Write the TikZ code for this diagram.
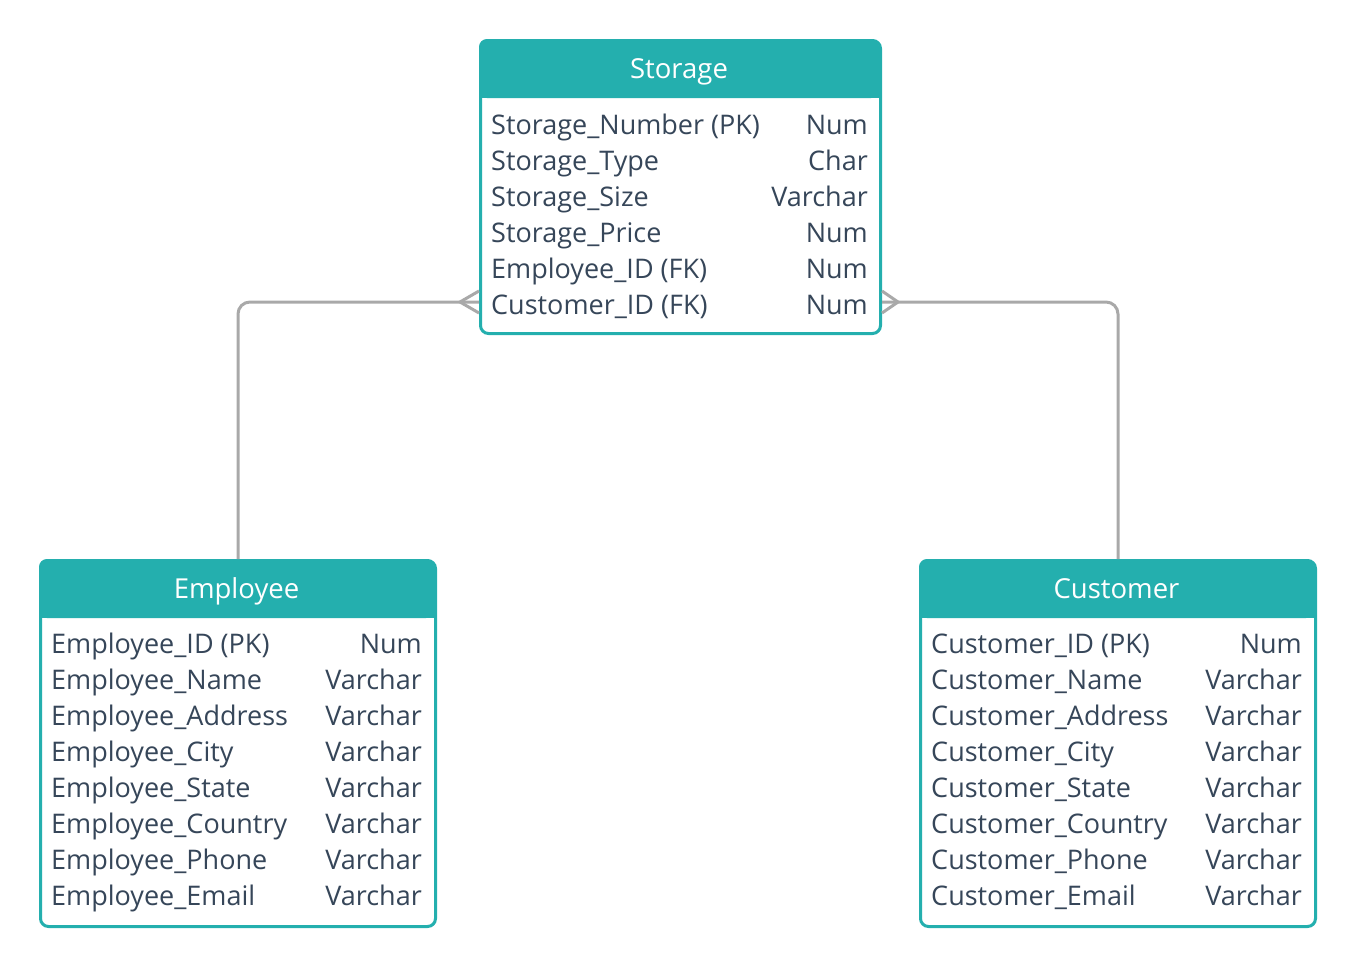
\documentclass[tikz,border=0pt]{standalone}
\usepackage{fontspec}
\setmainfont{Open Sans}
\definecolor{teal1}{HTML}{24AFAE}
\definecolor{ink}{HTML}{364659}
\definecolor{conn}{HTML}{A9A9A9}
\begin{document}
\begin{tikzpicture}[x=1pt,y=-1pt,
  tablebox/.style={draw=teal1, line width=3pt, rounded corners=8pt, fill=white, anchor=north west, inner sep=0pt},
  title/.style={text=white, font=\fontsize{27.5}{31}\selectfont, anchor=base, inner sep=0pt},
  fieldname/.style={text=ink, font=\fontsize{27}{31}\selectfont, anchor=base west, inner sep=0pt},
  fieldtype/.style={text=ink, font=\fontsize{27}{31}\selectfont, anchor=base east, inner sep=0pt},
  link/.style={draw=conn, line width=3pt, rounded corners=12pt},
  crow/.style={draw=conn, line width=3pt}]
\useasboundingbox (0,0) rectangle (1354,964);
% Storage
\node[tablebox, minimum width=400pt, minimum height=293pt] (storage) at (479,39) {};
\fill[teal1, rounded corners=8pt] (479,39) rectangle (879,98);
\fill[teal1] (479,70) rectangle (879,98);
\node[title] (storageT) at (679,78) {Storage};
\node[fieldname] (s1) at (491,134) {Storage\_Number (PK)};
\node[fieldtype] (s1t) at (868,134) {Num};
\node[fieldname] (s2) at (491,170) {Storage\_Type};
\node[fieldtype] (s2t) at (868,170) {Char};
\node[fieldname] (s3) at (491,206) {Storage\_Size};
\node[fieldtype] (s3t) at (868,206) {Varchar};
\node[fieldname] (s4) at (491,242) {Storage\_Price};
\node[fieldtype] (s4t) at (868,242) {Num};
\node[fieldname] (s5) at (491,278) {Employee\_ID (FK)};
\node[fieldtype] (s5t) at (868,278) {Num};
\node[fieldname] (s6) at (491,314) {Customer\_ID (FK)};
\node[fieldtype] (s6t) at (868,314) {Num};
% Employee
\node[tablebox, minimum width=395pt, minimum height=366pt] (employee) at (39,559) {};
\fill[teal1, rounded corners=8pt] (39,559) rectangle (434,618);
\fill[teal1] (39,590) rectangle (434,618);
\node[title] (employeeT) at (236.5,598) {Employee};
\foreach \n/\t [count=\i from 0] in {Employee\_ID (PK)/Num, Employee\_Name/Varchar, Employee\_Address/Varchar, Employee\_City/Varchar, Employee\_State/Varchar, Employee\_Country/Varchar, Employee\_Phone/Varchar, Employee\_Email/Varchar}{
  \node[fieldname] (e\i) at (51,653+36*\i) {\n};
  \node[fieldtype] (e\i t) at (422,653+36*\i) {\t};
}
% Customer
\node[tablebox, minimum width=395pt, minimum height=366pt] (customer) at (919,559) {};
\fill[teal1, rounded corners=8pt] (919,559) rectangle (1314,618);
\fill[teal1] (919,590) rectangle (1314,618);
\node[title] (customerT) at (1116.5,598) {Customer};
\foreach \n/\t [count=\i from 0] in {Customer\_ID (PK)/Num, Customer\_Name/Varchar, Customer\_Address/Varchar, Customer\_City/Varchar, Customer\_State/Varchar, Customer\_Country/Varchar, Customer\_Phone/Varchar, Customer\_Email/Varchar}{
  \node[fieldname] (c\i) at (931,653+36*\i) {\n};
  \node[fieldtype] (c\i t) at (1302,653+36*\i) {\t};
}
% connectors
\coordinate (sL) at (storage.west |- 0,302);
\coordinate (sR) at (storage.east |- 0,302);
\coordinate (sLtip) at (460,302);
\coordinate (sRtip) at (898,302);
\draw[link] (employee.north) |- (sL);
\draw[link] (customer.north) |- (sR);
\draw[crow] ([yshift=-11pt]sL) -- (sLtip) -- ([yshift=11pt]sL);
\draw[crow] ([yshift=-11pt]sR) -- (sRtip) -- ([yshift=11pt]sR);
\end{tikzpicture}
\end{document}
